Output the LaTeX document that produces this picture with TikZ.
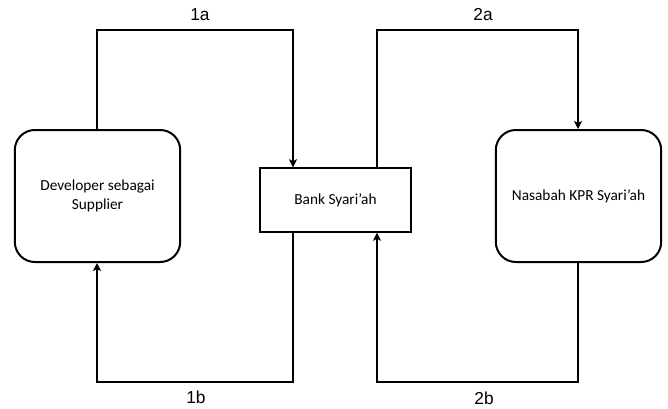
\documentclass[tikz,border=0pt]{standalone}
\usepackage{fontspec}
\setmainfont{Carlito}
\newfontfamily\lblfont{Liberation Sans}
\usetikzlibrary{arrows.meta}
\begin{document}
\begin{tikzpicture}[x=0.75pt,y=-0.75pt,
  conn/.style={line width=1.5pt,-{Stealth[length=6pt,width=6pt,inset=1.5pt]}},
  plain/.style={line width=1.5pt},
  roundbox/.style={draw,line width=1.5pt,rounded corners=15pt,minimum width=124pt,minimum height=99pt,align=center,font=\fontsize{11.5}{14}\selectfont,inner sep=0pt},
  bankbox/.style={draw,line width=1.1pt,minimum width=113pt,minimum height=48pt,align=center,font=\fontsize{11.5}{14}\selectfont,inner sep=0pt},
  lbl/.style={font=\lblfont\fontsize{13}{15}\selectfont,inner sep=0pt}]
\useasboundingbox (0,0) rectangle (668,408);
\node[roundbox] (dev) at (97.5,196) {Developer sebagai\\Supplier};
\node[bankbox] (bank) at (335.5,200) {Bank Syari'ah};
\node[roundbox] (nas) at (578.5,196) {Nasabah KPR Syari'ah};
\coordinate (c1) at (97,30);
\coordinate (c2) at (293,30);
\coordinate (c3) at (293,382);
\coordinate (c4) at (97,382);
\coordinate (c5) at (377,30);
\coordinate (c6) at (578,30);
\coordinate (c7) at (578,382);
\coordinate (c8) at (377,382);
\draw[conn] (dev.north -| c1) -- (c1) -- (c2) -- (bank.north -| c2);
\draw[conn] (bank.south -| c3) -- (c3) -- (c4) -- (dev.south -| c4);
\draw[conn] (bank.north -| c5) -- (c5) -- (c6) -- (nas.north -| c6);
\draw[conn] (nas.south -| c7) -- (c7) -- (c8) -- (bank.south -| c8);
\node[lbl] (l1a) at (200,15) {1a};
\node[lbl] (l2a) at (483,15) {2a};
\node[lbl] (l1b) at (196,397) {1b};
\node[lbl] (l2b) at (484,398) {2b};
\end{tikzpicture}
\end{document}
